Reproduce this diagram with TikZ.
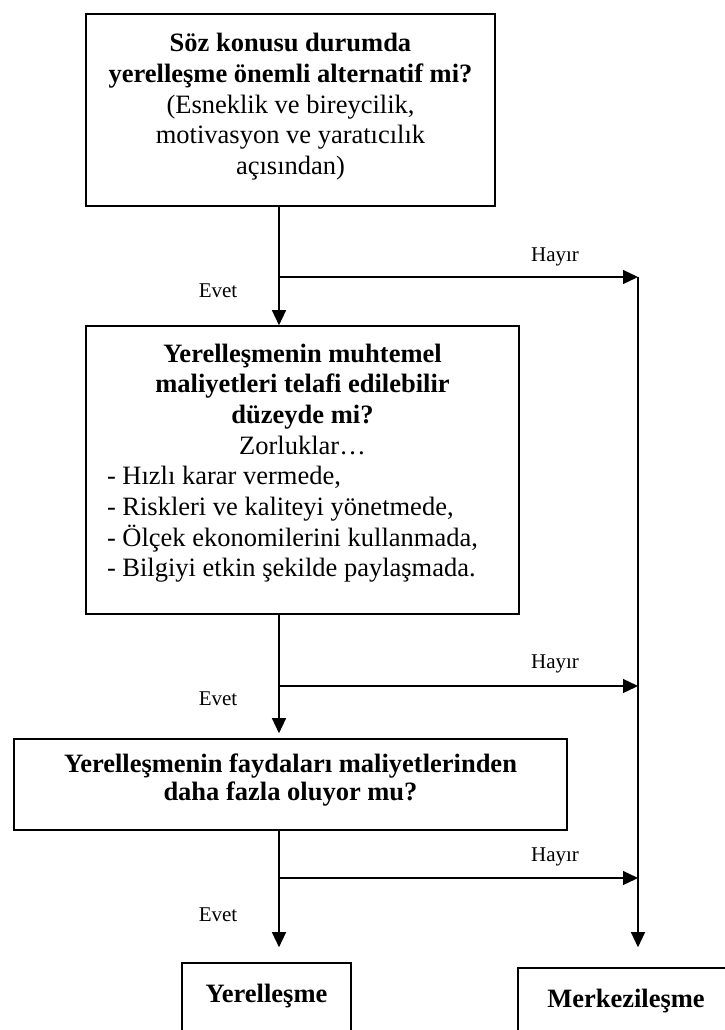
\documentclass[tikz,border=0pt]{standalone}
\usepackage{fontspec}
\setmainfont{Liberation Serif}
\usetikzlibrary{arrows.meta,calc}
\begin{document}
\begin{tikzpicture}[x=1pt,y=-1pt,
  box/.style={draw, line width=1.6pt, inner sep=0pt, rectangle},
  conn/.style={line width=1.3pt},
  arr/.style={conn, -{Triangle[length=15pt,width=14pt]}},
  lbl/.style={font=\fontsize{21}{24}\selectfont, inner sep=0pt}]
\useasboundingbox (0,0) rectangle (725,1030);
\clip (0,0) rectangle (725,1030);

\node[box] (q1) at (290.5,110) {\parbox[c][192pt][t]{409pt}{\centering\fontsize{26.5}{30.6}\selectfont\rule{0pt}{38pt}\textbf{Söz konusu durumda}\\\textbf{yerelleşme önemli alternatif mi?}\\(Esneklik ve bireycilik,\\motivasyon ve yaratıcılık\\açısından)}};

\node[box] (q2) at (302.5,470) {\parbox[c][288pt][t]{433pt}{\centering\fontsize{26.5}{30.7}\selectfont\rule{0pt}{36pt}\textbf{Yerelleşmenin muhtemel}\\\textbf{maliyetleri telafi edilebilir}\\\textbf{düzeyde mi?}\\Zorluklar…\\
\makebox[\linewidth][l]{\hspace{21pt}- Hızlı karar vermede,}\\
\makebox[\linewidth][l]{\hspace{21pt}- Riskleri ve kaliteyi yönetmede,}\\
\makebox[\linewidth][l]{\hspace{21pt}- Ölçek ekonomilerini kullanmada,}\\
\makebox[\linewidth][l]{\hspace{21pt}- Bilgiyi etkin şekilde paylaşmada.}}};

\node[box] (q3) at (290.5,784.5) {\parbox[c][91pt][t]{553pt}{\centering\fontsize{26.5}{28}\selectfont\rule{0pt}{33pt}\textbf{Yerelleşmenin faydaları maliyetlerinden}\\\textbf{daha fazla oluyor mu?}}};

\node[box] (yer) at (266.5,1013) {\parbox[c][100pt][t]{169pt}{\centering\fontsize{26.5}{30.6}\selectfont\rule{0pt}{39pt}\textbf{Yerelleşme}}};
\node[box] (mer) at (626,1018) {\parbox[c][100pt][t]{216pt}{\centering\fontsize{26.5}{30.6}\selectfont\rule{0pt}{39pt}\textbf{Merkezileşme}}};

\coordinate (c) at (279,0);
\coordinate (r) at (638,0);
\coordinate (b1) at (279,277);
\coordinate (b2) at (279,686);
\coordinate (b3) at (279,878);
\coordinate (e1) at (638,277);
\coordinate (e2) at (638,686);
\coordinate (e3) at (638,878);

\draw[arr] (q1.south -| c) -- (q2.north -| c);
\draw[arr] (b1) -- (e1);
\draw[arr, shorten >=20pt] (e1) -- (mer.north -| r);
\draw[arr, shorten >=5pt] (q2.south -| c) -- (q3.north -| c);
\draw[arr] (b2) -- (e2);
\draw[arr, shorten >=15pt] (q3.south -| c) -- (yer.north -| c);
\draw[arr] (b3) -- (e3);

\node[lbl] (h1) at (555,257) {Hayır};
\node[lbl] (v1) at (218,291) {Evet};
\node[lbl] (h2) at (555,664) {Hayır};
\node[lbl] (v2) at (218,699) {Evet};
\node[lbl] (h3) at (555,857) {Hayır};
\node[lbl] (v3) at (218,915) {Evet};
\end{tikzpicture}
\end{document}
